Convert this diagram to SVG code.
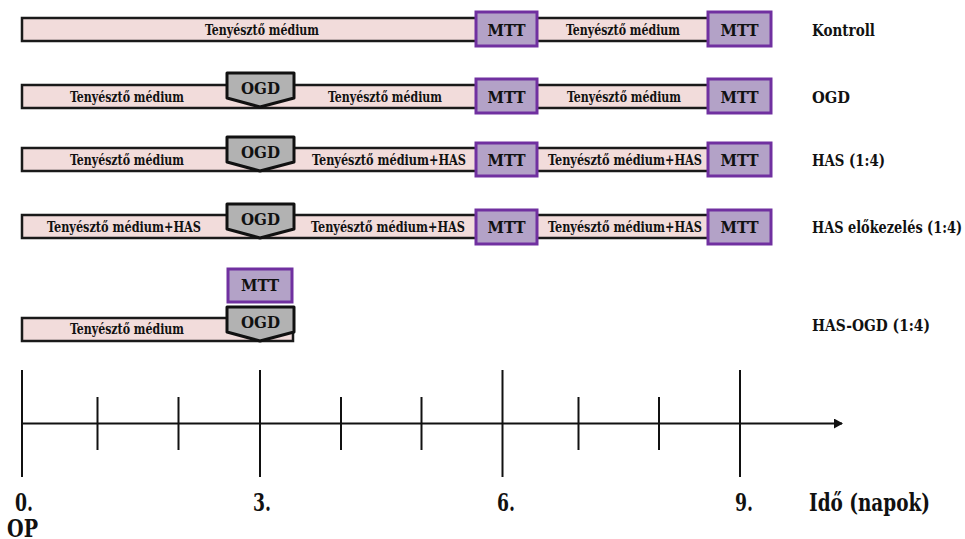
<svg xmlns="http://www.w3.org/2000/svg" width="965" height="539" viewBox="0 0 965 539">
<style>
text{font-family:"DejaVu Serif Condensed","DejaVu Serif","Liberation Serif",serif;font-stretch:condensed;font-weight:bold;fill:#111}
.bar{fill:#f2dcdb;stroke:#1a1a1a;stroke-width:2.5}
.mtt{fill:#b3a2c7;stroke:#7030a0;stroke-width:3}
.ogd{fill:#b2b2b2;stroke:#111;stroke-width:3;stroke-linejoin:round}
.bt{font-size:14px;text-anchor:middle}
.bx{font-size:17px;text-anchor:middle}
.lbl{font-size:17px}
.tl{font-size:24px}
.tick{stroke:#111;stroke-width:2}
</style>
<defs>
<marker id="arr" markerWidth="10" markerHeight="10" refX="8" refY="5" orient="auto" markerUnits="userSpaceOnUse">
<path d="M0,0 L9,5 L0,10 Z" fill="#111"/>
</marker>
</defs>

<!-- Row 1: Kontroll -->
<g id="r1-med1"><rect class="bar" x="22" y="18" width="456" height="23"/><text class="bt" x="262" y="34.5" textLength="114" lengthAdjust="spacingAndGlyphs">Tenyésztő médium</text></g>
<g id="r1-med2"><rect class="bar" x="536" y="18" width="174" height="23"/><text class="bt" x="623" y="34.5" textLength="114" lengthAdjust="spacingAndGlyphs">Tenyésztő médium</text></g>
<g id="r1-mtt1"><rect class="mtt" x="476" y="12" width="61" height="34"/><text class="bx" x="506.5" y="35.5" textLength="38" lengthAdjust="spacingAndGlyphs">MTT</text></g>
<g id="r1-mtt2"><rect class="mtt" x="708" y="12" width="63" height="34"/><text class="bx" x="739.5" y="35.5" textLength="38" lengthAdjust="spacingAndGlyphs">MTT</text></g>
<g id="r1-label"><text class="lbl" x="812" y="36" textLength="63" lengthAdjust="spacingAndGlyphs">Kontroll</text></g>

<!-- Row 2: OGD -->
<g id="r2-med1"><rect class="bar" x="22" y="85" width="456" height="23"/><text class="bt" x="127" y="101.5" textLength="114" lengthAdjust="spacingAndGlyphs">Tenyésztő médium</text><text class="bt" x="385" y="101.5" textLength="114" lengthAdjust="spacingAndGlyphs">Tenyésztő médium</text></g>
<g id="r2-med2"><rect class="bar" x="536" y="85" width="174" height="23"/><text class="bt" x="624" y="101.5" textLength="114" lengthAdjust="spacingAndGlyphs">Tenyésztő médium</text></g>
<g id="r2-ogd"><path class="ogd" d="M227,73 H294 V98 L260,107 L227,98 Z"/><text class="bx" x="260.5" y="94" textLength="39" lengthAdjust="spacingAndGlyphs">OGD</text></g>
<g id="r2-mtt1"><rect class="mtt" x="476" y="79" width="61" height="34"/><text class="bx" x="506.5" y="102.5" textLength="38" lengthAdjust="spacingAndGlyphs">MTT</text></g>
<g id="r2-mtt2"><rect class="mtt" x="708" y="79" width="63" height="34"/><text class="bx" x="739.5" y="102.5" textLength="38" lengthAdjust="spacingAndGlyphs">MTT</text></g>
<g id="r2-label"><text class="lbl" x="812" y="102.5" textLength="38" lengthAdjust="spacingAndGlyphs">OGD</text></g>

<!-- Row 3: HAS (1:4) -->
<g id="r3-med1"><rect class="bar" x="22" y="148" width="456" height="23"/><text class="bt" x="127" y="164.5" textLength="114" lengthAdjust="spacingAndGlyphs">Tenyésztő médium</text><text class="bt" x="389" y="164.5" textLength="154" lengthAdjust="spacingAndGlyphs">Tenyésztő médium+HAS</text></g>
<g id="r3-med2"><rect class="bar" x="536" y="148" width="174" height="23"/><text class="bt" x="625" y="164.5" textLength="154" lengthAdjust="spacingAndGlyphs">Tenyésztő médium+HAS</text></g>
<g id="r3-ogd"><path class="ogd" d="M227,137 H294 V162 L260,171 L227,162 Z"/><text class="bx" x="260.5" y="158" textLength="39" lengthAdjust="spacingAndGlyphs">OGD</text></g>
<g id="r3-mtt1"><rect class="mtt" x="476" y="143" width="61" height="33"/><text class="bx" x="506.5" y="166" textLength="38" lengthAdjust="spacingAndGlyphs">MTT</text></g>
<g id="r3-mtt2"><rect class="mtt" x="708" y="143" width="63" height="33"/><text class="bx" x="739.5" y="166" textLength="38" lengthAdjust="spacingAndGlyphs">MTT</text></g>
<g id="r3-label"><text class="lbl" x="812" y="166" textLength="73" lengthAdjust="spacingAndGlyphs">HAS (1:4)</text></g>

<!-- Row 4: HAS előkezelés (1:4) -->
<g id="r4-med1"><rect class="bar" x="22" y="215" width="456" height="23"/><text class="bt" x="124" y="231.5" textLength="154" lengthAdjust="spacingAndGlyphs">Tenyésztő médium+HAS</text><text class="bt" x="388" y="231.5" textLength="154" lengthAdjust="spacingAndGlyphs">Tenyésztő médium+HAS</text></g>
<g id="r4-med2"><rect class="bar" x="536" y="215" width="174" height="23"/><text class="bt" x="625" y="231.5" textLength="154" lengthAdjust="spacingAndGlyphs">Tenyésztő médium+HAS</text></g>
<g id="r4-ogd"><path class="ogd" d="M227,204 H294 V229 L260,238 L227,229 Z"/><text class="bx" x="260.5" y="225" textLength="39" lengthAdjust="spacingAndGlyphs">OGD</text></g>
<g id="r4-mtt1"><rect class="mtt" x="476" y="210" width="61" height="34"/><text class="bx" x="506.5" y="233" textLength="38" lengthAdjust="spacingAndGlyphs">MTT</text></g>
<g id="r4-mtt2"><rect class="mtt" x="708" y="210" width="63" height="34"/><text class="bx" x="739.5" y="233" textLength="38" lengthAdjust="spacingAndGlyphs">MTT</text></g>
<g id="r4-label"><text class="lbl" x="812" y="233" textLength="150" lengthAdjust="spacingAndGlyphs">HAS előkezelés (1:4)</text></g>

<!-- Row 5: HAS-OGD (1:4) -->
<g id="r5-med1"><rect class="bar" x="22" y="318" width="271" height="23"/><text class="bt" x="127" y="334" textLength="114" lengthAdjust="spacingAndGlyphs">Tenyésztő médium</text></g>
<g id="r5-ogd"><path class="ogd" d="M227,307 H294 V332 L260,341 L227,332 Z"/><text class="bx" x="260.5" y="328" textLength="39" lengthAdjust="spacingAndGlyphs">OGD</text></g>
<g id="r5-mtt"><rect class="mtt" x="228" y="269" width="64" height="33"/><text class="bx" x="260" y="291" textLength="38" lengthAdjust="spacingAndGlyphs">MTT</text></g>
<g id="r5-label"><text class="lbl" x="812" y="331" textLength="118" lengthAdjust="spacingAndGlyphs">HAS-OGD (1:4)</text></g>

<!-- Timeline -->
<g id="connectors">
<line class="tick" x1="22" y1="423.5" x2="842" y2="423.5" marker-end="url(#arr)"/>
<line class="tick" x1="22" y1="370" x2="22" y2="477"/>
<line class="tick" x1="97.5" y1="397" x2="97.5" y2="450"/>
<line class="tick" x1="178.5" y1="397" x2="178.5" y2="450"/>
<line class="tick" x1="260" y1="370" x2="260" y2="477"/>
<line class="tick" x1="341" y1="397" x2="341" y2="450"/>
<line class="tick" x1="421.5" y1="397" x2="421.5" y2="450"/>
<line class="tick" x1="502.5" y1="370" x2="502.5" y2="477"/>
<line class="tick" x1="578.5" y1="397" x2="578.5" y2="450"/>
<line class="tick" x1="659" y1="397" x2="659" y2="450"/>
<line class="tick" x1="740" y1="370" x2="740" y2="477"/>
</g>
<g id="timeline-labels">
<text class="tl" x="15" y="511" textLength="18" lengthAdjust="spacingAndGlyphs">0.</text>
<text class="tl" x="7" y="537" textLength="31" lengthAdjust="spacingAndGlyphs">OP</text>
<text class="tl" x="253" y="511" textLength="18" lengthAdjust="spacingAndGlyphs">3.</text>
<text class="tl" x="497" y="511" textLength="18" lengthAdjust="spacingAndGlyphs">6.</text>
<text class="tl" x="735" y="511" textLength="18" lengthAdjust="spacingAndGlyphs">9.</text>
<text class="tl" x="809" y="511" textLength="121" lengthAdjust="spacingAndGlyphs">Idő (napok)</text>
</g>
</svg>
